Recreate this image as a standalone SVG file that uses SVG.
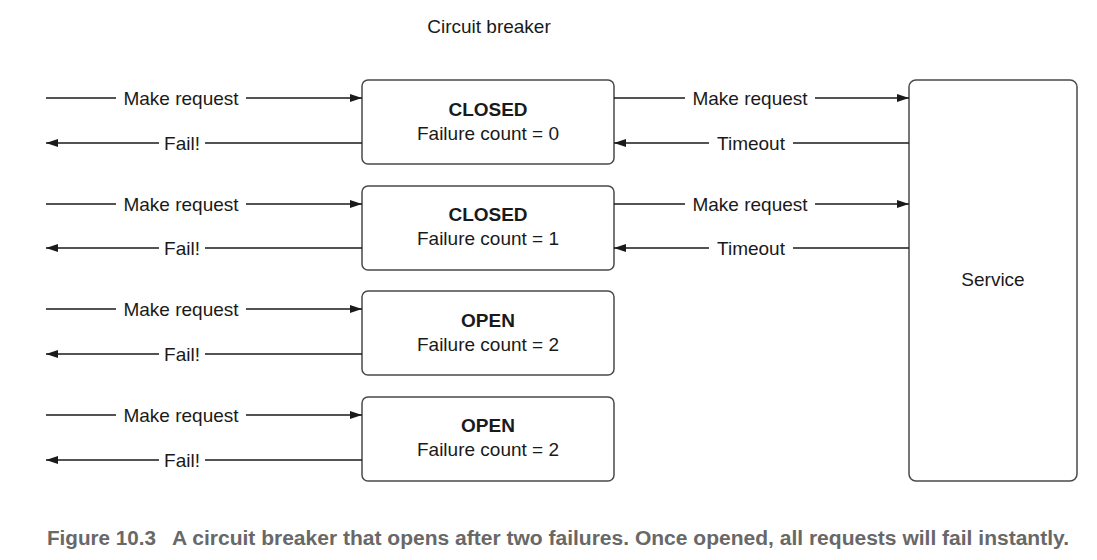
<svg xmlns="http://www.w3.org/2000/svg" width="1097" height="560" viewBox="0 0 1097 560">
<defs>
<marker id="ah" viewBox="0 0 12 8" refX="12" refY="4" markerWidth="13" markerHeight="8" markerUnits="userSpaceOnUse" orient="auto">
<path d="M0,0 L12,4 L0,8 Z" fill="#1a1a1a"/>
</marker>
</defs>
<style>
.t{font-family:"Liberation Sans",Arial,sans-serif;font-size:19px;fill:#1a1a1a}
.b{font-weight:bold}
.box{fill:#fff;stroke:#4a4a4a;stroke-width:1.5}
.ln{stroke:#1a1a1a;stroke-width:1.3;fill:none}
.cap{font-family:"Liberation Sans",Arial,sans-serif;font-size:20px;font-weight:bold;fill:#686868}
</style>
<rect width="1097" height="560" fill="#fff"/>
<text class="t" x="489" y="33" text-anchor="middle">Circuit breaker</text>
<g id="box1"><rect class="box" x="362" y="80" width="252" height="84" rx="6"/>
<text class="t b" x="488" y="116" text-anchor="middle">CLOSED</text>
<text class="t" x="488" y="140" text-anchor="middle">Failure count = 0</text></g>
<g id="box2"><rect class="box" x="362" y="186" width="252" height="84" rx="6"/>
<text class="t b" x="488" y="221" text-anchor="middle">CLOSED</text>
<text class="t" x="488" y="245" text-anchor="middle">Failure count = 1</text></g>
<g id="box3"><rect class="box" x="362" y="291" width="252" height="84" rx="6"/>
<text class="t b" x="488" y="327" text-anchor="middle">OPEN</text>
<text class="t" x="488" y="351" text-anchor="middle">Failure count = 2</text></g>
<g id="box4"><rect class="box" x="362" y="397" width="252" height="84" rx="6"/>
<text class="t b" x="488" y="432" text-anchor="middle">OPEN</text>
<text class="t" x="488" y="456" text-anchor="middle">Failure count = 2</text></g>
<g id="service"><rect class="box" x="909" y="80" width="168" height="401" rx="7"/>
<text class="t" x="993" y="286" text-anchor="middle">Service</text></g>
<g id="connectors">
<path class="ln" d="M46,98 H116"/><path class="ln" d="M246,98 H362" marker-end="url(#ah)"/>
<text class="t" x="181" y="105" text-anchor="middle">Make request</text>
<path class="ln" d="M362,143 H205"/><path class="ln" d="M159,143 H46" marker-end="url(#ah)"/>
<text class="t" x="182" y="150" text-anchor="middle">Fail!</text>
<path class="ln" d="M614,98 H685"/><path class="ln" d="M815,98 H909" marker-end="url(#ah)"/>
<text class="t" x="750" y="105" text-anchor="middle">Make request</text>
<path class="ln" d="M909,143 H793"/><path class="ln" d="M709,143 H614" marker-end="url(#ah)"/>
<text class="t" x="751" y="150" text-anchor="middle">Timeout</text>
<path class="ln" d="M46,204 H116"/><path class="ln" d="M246,204 H362" marker-end="url(#ah)"/>
<text class="t" x="181" y="211" text-anchor="middle">Make request</text>
<path class="ln" d="M362,248 H205"/><path class="ln" d="M159,248 H46" marker-end="url(#ah)"/>
<text class="t" x="182" y="255" text-anchor="middle">Fail!</text>
<path class="ln" d="M614,204 H685"/><path class="ln" d="M815,204 H909" marker-end="url(#ah)"/>
<text class="t" x="750" y="211" text-anchor="middle">Make request</text>
<path class="ln" d="M909,248 H793"/><path class="ln" d="M709,248 H614" marker-end="url(#ah)"/>
<text class="t" x="751" y="255" text-anchor="middle">Timeout</text>
<path class="ln" d="M46,309 H116"/><path class="ln" d="M246,309 H362" marker-end="url(#ah)"/>
<text class="t" x="181" y="316" text-anchor="middle">Make request</text>
<path class="ln" d="M362,354 H205"/><path class="ln" d="M159,354 H46" marker-end="url(#ah)"/>
<text class="t" x="182" y="361" text-anchor="middle">Fail!</text>
<path class="ln" d="M46,415 H116"/><path class="ln" d="M246,415 H362" marker-end="url(#ah)"/>
<text class="t" x="181" y="422" text-anchor="middle">Make request</text>
<path class="ln" d="M362,460 H205"/><path class="ln" d="M159,460 H46" marker-end="url(#ah)"/>
<text class="t" x="182" y="467" text-anchor="middle">Fail!</text>
</g>
<text class="cap" x="47" y="545" textLength="109" lengthAdjust="spacingAndGlyphs">Figure 10.3</text>
<text class="cap" x="172" y="545" textLength="897" lengthAdjust="spacingAndGlyphs">A circuit breaker that opens after two failures. Once opened, all requests will fail instantly.</text>
</svg>
